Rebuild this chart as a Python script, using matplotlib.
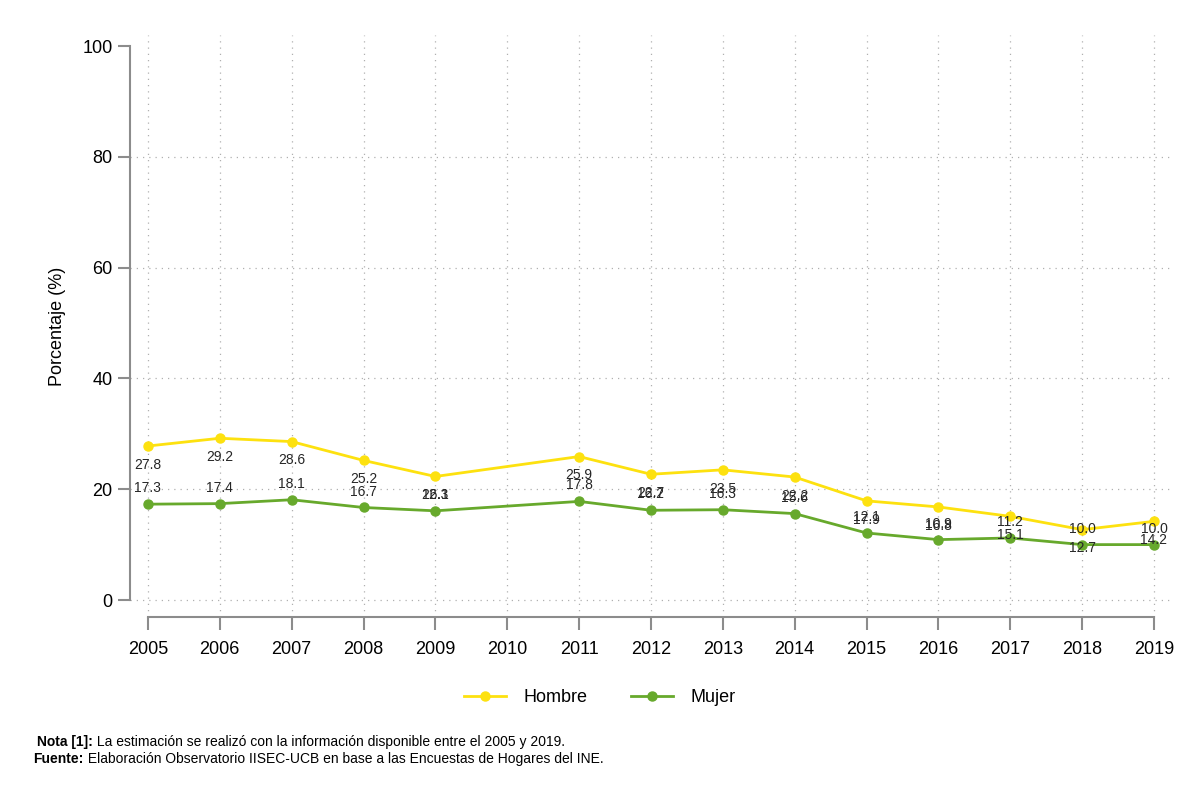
import numpy as np
import matplotlib
matplotlib.use('Agg')
import matplotlib.pyplot as plt

plt.rcParams['font.family'] = ['Liberation Sans', 'DejaVu Sans']

# data (2010 has no survey value; line joins 2009 to 2011)
years = [2005, 2006, 2007, 2008, 2009, 2011, 2012, 2013, 2014, 2015, 2016, 2017, 2018, 2019]
hombre = [27.8, 29.2, 28.6, 25.2, 22.3, 25.9, 22.7, 23.5, 22.2, 17.9, 16.8, 15.1, 12.7, 14.2]
mujer = [17.3, 17.4, 18.1, 16.7, 16.1, 17.8, 16.2, 16.3, 15.6, 12.1, 10.9, 11.2, 10.0, 10.0]
tick_years = list(range(2005, 2020))
y_ticks = [0, 20, 40, 60, 80, 100]

nota = ' La estimación se realizó con la información disponible entre el 2005 y 2019.'
fuente = ' Elaboración Observatorio IISEC-UCB en base a las Encuestas de Hogares del INE.'

c_h = '#FDE10F'
c_m = '#67A92C'
axis_gray = '#8C8C8C'

fig = plt.figure(figsize=(12, 8.01), dpi=100)
ax = fig.add_axes([0.1083, 0.2297, 0.8683, 0.7266])

ax.plot(years, hombre, '-o', color=c_h, lw=2, ms=6.5, label='Hombre', zorder=3)
ax.plot(years, mujer, '-o', color=c_m, lw=2, ms=6.5, label='Mujer', zorder=3)

# value labels: Hombre below its points, Mujer above
for x, v in zip(years, hombre):
    ax.annotate(f'{v:.1f}', (x, v), xytext=(0, -13.5), textcoords='offset points',
                ha='center', va='center', fontsize=10, color='#262626')
for x, v in zip(years, mujer):
    ax.annotate(f'{v:.1f}', (x, v), xytext=(0, 11.5), textcoords='offset points',
                ha='center', va='center', fontsize=10, color='#262626')

ax.set_xlim(2004.75, 2019.25)
ax.set_ylim(-3.07, 102)
ax.set_xticks(tick_years)
ax.set_yticks(y_ticks)
ax.tick_params(axis='both', colors=axis_gray, labelcolor='black', labelsize=13,
               length=9, width=1.5)
ax.tick_params(axis='x', pad=8)

for s in ['top', 'right']:
    ax.spines[s].set_visible(False)
for s in ['left', 'bottom']:
    ax.spines[s].set_color(axis_gray)
    ax.spines[s].set_linewidth(1.5)
ax.spines['left'].set_bounds(0, 100)
ax.spines['bottom'].set_bounds(2005, 2019)

# dotted grid
for y in y_ticks[:-1]:
    ax.axhline(y, color='#B0B0B0', lw=0.9, ls=(0, (1, 4)), zorder=1)
for x in tick_years:
    ax.axvline(x, color='#B0B0B0', lw=0.9, ls=(0, (1, 4)), zorder=1)

ax.set_ylabel('Porcentaje (%)', fontsize=13, labelpad=12)

fig.legend(loc='center', bbox_to_anchor=(0.5, 0.129), ncol=2, frameon=False,
           fontsize=13, handlelength=2.3, columnspacing=2.4, handletextpad=1.0)

# notes: bold lead-in followed by regular text
t1 = fig.text(0.031, 0.069, 'Nota [1]:', fontsize=10, fontweight='bold')
t2 = fig.text(0.028, 0.048, 'Fuente:', fontsize=10, fontweight='bold')
fig.canvas.draw()
for t, msg in [(t1, nota), (t2, fuente)]:
    bb = t.get_window_extent()
    x0 = fig.transFigure.inverted().transform((bb.x1, bb.y0))[0]
    fig.text(x0, t.get_position()[1], msg, fontsize=10)

fig.savefig('out.png', dpi=100)
